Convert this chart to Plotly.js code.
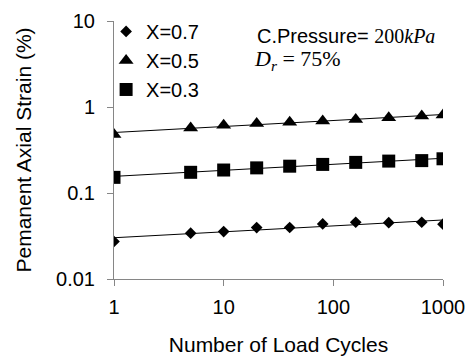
<!DOCTYPE html>
<html>
<head>
<meta charset="utf-8">
<script src="https://cdn.plot.ly/plotly-3.0.1.min.js"></script>
<style>html,body{margin:0;padding:0;background:#fff;}#chart{width:469px;height:360px;}</style>
</head>
<body>
<div id="chart"></div>
<script>
const cycles = [1, 5, 10, 20, 40, 80, 160, 320, 640, 1000];
const strainX07 = [0.0273, 0.0341, 0.0356, 0.0396, 0.0397, 0.0437, 0.0457, 0.0452, 0.0457, 0.0434];
const strainX05 = [0.479, 0.571, 0.614, 0.642, 0.665, 0.689, 0.715, 0.748, 0.785, 0.805];
const strainX03 = [0.152, 0.174, 0.185, 0.196, 0.205, 0.215, 0.227, 0.235, 0.238, 0.250];
const seriesNames = ['X=0.7', 'X=0.5', 'X=0.3'];
const xTickVals = [1, 10, 100, 1000];
const xTickText = ['1', '10', '100', '1000'];
const yTickVals = [0.01, 0.1, 1, 10];
const yTickText = ['0.01', '0.1', '1', '10'];

function powerFit(xs, ys) {
  const lx = xs.map(Math.log10), ly = ys.map(Math.log10);
  const n = lx.length;
  const mx = lx.reduce((a, b) => a + b, 0) / n;
  const my = ly.reduce((a, b) => a + b, 0) / n;
  let sxy = 0, sxx = 0;
  for (let i = 0; i < n; i++) { sxy += (lx[i] - mx) * (ly[i] - my); sxx += (lx[i] - mx) ** 2; }
  const b = sxy / sxx, a = my - b * mx;
  const xe = [Math.min(...xs), Math.max(...xs)];
  return { x: xe, y: xe.map(v => Math.pow(10, a + b * Math.log10(v))) };
}

const font = 'Liberation Sans, Arial, sans-serif';
const seriesData = [strainX07, strainX05, strainX03];
const symbols = ['diamond', 'triangle-up', 'square'];
const sizes = [9, 13, 13];

const traces = [];
seriesData.forEach((ys) => {
  const f = powerFit(cycles, ys);
  traces.push({ x: f.x, y: f.y, mode: 'lines', line: { color: '#000', width: 1 }, showlegend: false, hoverinfo: 'skip' });
});
seriesData.forEach((ys, i) => {
  traces.push({ x: cycles, y: ys, mode: 'markers', name: seriesNames[i],
    marker: { symbol: symbols[i], size: sizes[i], color: '#000' } });
});

const layout = {
  width: 469, height: 360,
  margin: { l: 114, r: 26, t: 21, b: 81 },
  paper_bgcolor: '#fff', plot_bgcolor: '#fff',
  font: { family: font, color: '#000', size: 20 },
  showlegend: true,
  legend: { x: -0.024, y: 1.035, xanchor: 'left', yanchor: 'top', bgcolor: 'rgba(0,0,0,0)',
    font: { family: font, size: 20, color: '#000' }, tracegroupgap: 0, itemwidth: 30 },
  xaxis: { type: 'log', range: [0, 3], tickvals: xTickVals, ticktext: xTickText,
    showgrid: false, zeroline: false, showline: true, linecolor: '#868686', linewidth: 1,
    ticks: 'outside', ticklen: 6, tickcolor: '#868686', tickfont: { size: 20, family: font },
    ticklabelstandoff: 4,
    title: { text: 'Number of Load Cycles', font: { size: 21, family: font }, standoff: 20 } },
  yaxis: { type: 'log', range: [-2, 1], tickvals: yTickVals, ticktext: yTickText,
    showgrid: false, zeroline: false, showline: true, linecolor: '#868686', linewidth: 1,
    ticks: 'outside', ticklen: 6, tickcolor: '#868686', tickfont: { size: 20, family: font },
    ticklabelstandoff: 8,
    title: { text: 'Pemanent Axial Strain (%)', font: { size: 21, family: font }, standoff: 18 } },
  annotations: [
    { xref: 'paper', yref: 'paper', x: 0.43, y: 0.94, xanchor: 'left', yanchor: 'middle', showarrow: false,
      text: 'C.Pressure= <span style="font-family:Liberation Serif">200<i>kPa</i></span>', font: { size: 20, family: font } },
    { xref: 'paper', yref: 'paper', x: 0.42, y: 0.85, xanchor: 'left', yanchor: 'middle', showarrow: false,
      text: '<i>D<sub>r</sub></i> = 75%', font: { size: 22, family: 'Liberation Serif, serif' } }
  ]
};

Plotly.newPlot('chart', traces, layout, { displayModeBar: false, staticPlot: true });
</script>
</body>
</html>
